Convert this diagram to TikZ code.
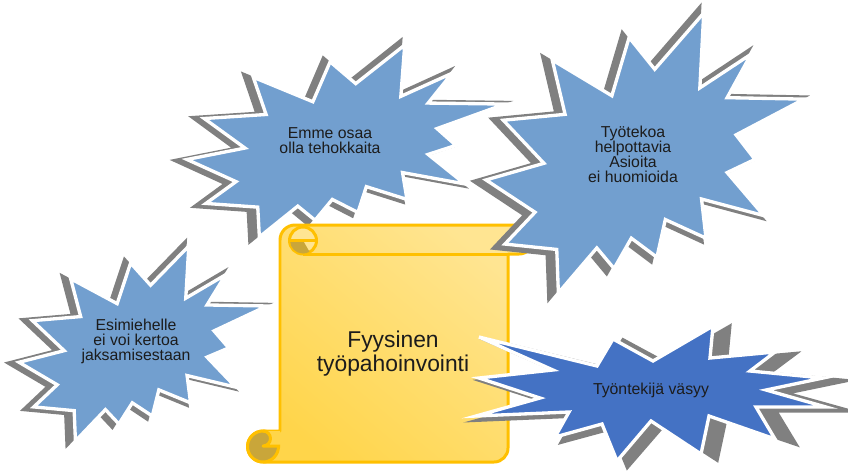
\documentclass[tikz,border=0pt]{standalone}
\usepackage{fontspec}
\setmainfont{Liberation Sans}
\definecolor{starblue}{HTML}{729FCF}
\definecolor{stardark}{HTML}{4472C4}
\definecolor{shadowgray}{HTML}{808080}
\definecolor{scrollline}{HTML}{FFC000}
\definecolor{scrolllow}{HTML}{FFD54A}
\definecolor{scrollhigh}{HTML}{FFE592}
\definecolor{scrollcurl}{HTML}{C9A63A}
\definecolor{inktext}{HTML}{1C1C1C}
\tikzset{
  % explosion outline in a unit box
  sealtwo/.style={insert path={(0.5306,0.2010) -- (0.6847,0) -- (0.6725,0.2675) -- (0.8337,0.1469)
    -- (0.7583,0.3024) -- (1,0.3076) -- (0.7863,0.4353) -- (0.8458,0.5227) -- (0.7583,0.5699)
    -- (0.8739,0.7237) -- (0.6778,0.6644) -- (0.6918,0.8042) -- (0.5639,0.7377) -- (0.5376,0.8723)
    -- (0.4570,0.8042) -- (0.4028,0.9126) -- (0.3485,0.8391) -- (0.2276,1) -- (0.2225,0.8444)
    -- (0.0595,0.8252) -- (0.1542,0.7116) -- (0,0.5962) -- (0.1822,0.5367) -- (0.0543,0.3829)
    -- (0.2487,0.3619) -- (0.2084,0.1678) -- (0.3958,0.2955) -- (0.4501,0.0874) -- cycle}},
  % the wide burst on the right
  burstpath/.style={insert path={(479,337) -- (597,366) -- (613,339) -- (653,361) -- (713,326)
    -- (710,358) -- (775,352) -- (750,371) -- (823,378) -- (766,390) -- (826,407) -- (756,407)
    -- (775,439) -- (709,416) -- (701,454) -- (651,421) -- (617,461) -- (602,424) -- (555,437)
    -- (569,412) -- (476,416) -- (540,398) -- (479,378) -- (553,370) -- cycle}},
  starshadow/.style={fill=shadowgray, draw=shadowgray, line width=1.7pt},
  starface/.style={fill=#1, draw=white, line width=1.9pt},
  startext/.style={align=center, text=inktext, font=\fontsize{9}{8.5}\selectfont},
  scrollpen/.style={draw=scrollline, line width=1.7pt, line join=round}
}
\begin{document}
\begin{tikzpicture}[x=0.02cm, y=-0.02cm]
\fill[white] (0,0) rectangle (848,474);
\useasboundingbox (0,0) rectangle (848,474);

% left burst
\begin{scope}[shift={(265,345)}, xscale=1.045, yscale=1.045, shift={(-265,-345)}]
  \begin{scope}[shift={(19,246)}, xscale=248, yscale=195]
    \path[starshadow, sealtwo];
  \end{scope}
\end{scope}
\begin{scope}[shift={(19,246)}, xscale=248, yscale=195]
  \path[starface=starblue, sealtwo];
\end{scope}
\node[startext] (esimies) at (136,341) {Esimiehelle\\ei voi kertoa\\jaksamisestaan};

% top middle burst
\begin{scope}[shift={(500,140)}, xscale=1.04, yscale=1.05, shift={(-500,-140)}]
  \begin{scope}[shift={(187,45)}, xscale=318, yscale=192]
    \path[starshadow, sealtwo];
  \end{scope}
\end{scope}
\begin{scope}[shift={(187,45)}, xscale=318, yscale=192]
  \path[starface=starblue, sealtwo];
\end{scope}
\node[startext] (emme) at (330,141) {Emme osaa\\olla tehokkaita};

% scroll
\path[scrollpen, bottom color=scrolllow, top color=scrollhigh, shading angle=-40]
  (280,431) -- (280,240) arc[start angle=180, end angle=270, radius=15] -- (519,225)
  arc[start angle=-90, end angle=90, radius=14.5] -- (508,254) -- (508,448)
  arc[start angle=0, end angle=90, radius=14] -- (263,462)
  arc[start angle=90, end angle=270, radius=15.5] -- cycle;
\draw[scrollpen] (303,254) -- (508,254);
% top curl
\filldraw[scrollpen, fill=scrollhigh] (303,240.5) circle[radius=13.5];
\fill[scrollcurl] (290,240.5) arc[start angle=180, end angle=60, radius=13] -- (303,240.5) -- cycle;
\draw[scrollpen] (289.5,240.5) -- (316.5,240.5);
% bottom curl
\filldraw[scrollpen, fill=scrollcurl] (263,446.5) circle[radius=15.5];
\fill[scrolllow] (263,431) arc[start angle=-90, end angle=90, radius=7.5] -- (280,446) -- (280,431) -- cycle;
\draw[scrollpen] (263,431) arc[start angle=-90, end angle=90, radius=7.5] -- (280,446);
\node[align=center, text=inktext, font=\fontsize{13}{13.6}\selectfont] (fyysinen) at (393,354)
  {Fyysinen\\työpahoinvointi};

% top right burst
\begin{scope}[shift={(800,150)}, xscale=1.04, yscale=1.045, shift={(-800,-150)}]
  \begin{scope}[shift={(486,13)}, xscale=318, yscale=280]
    \path[starshadow, sealtwo];
  \end{scope}
\end{scope}
\begin{scope}[shift={(486,13)}, xscale=318, yscale=280]
  \path[starface=starblue, sealtwo];
\end{scope}
\node[startext] (tyotekoa) at (633,154) {Työtekoa\\helpottavia\\Asioita\\ei huomioida};

% bottom right burst
\begin{scope}[shift={(470,327)}, xscale=1.07, yscale=1.05, shift={(-470,-327)}]
  \path[starshadow, burstpath];
\end{scope}
\path[starface=stardark, burstpath];
\node[startext] (vasyy) at (651,390) {Työntekijä väsyy};
\end{tikzpicture}
\end{document}
